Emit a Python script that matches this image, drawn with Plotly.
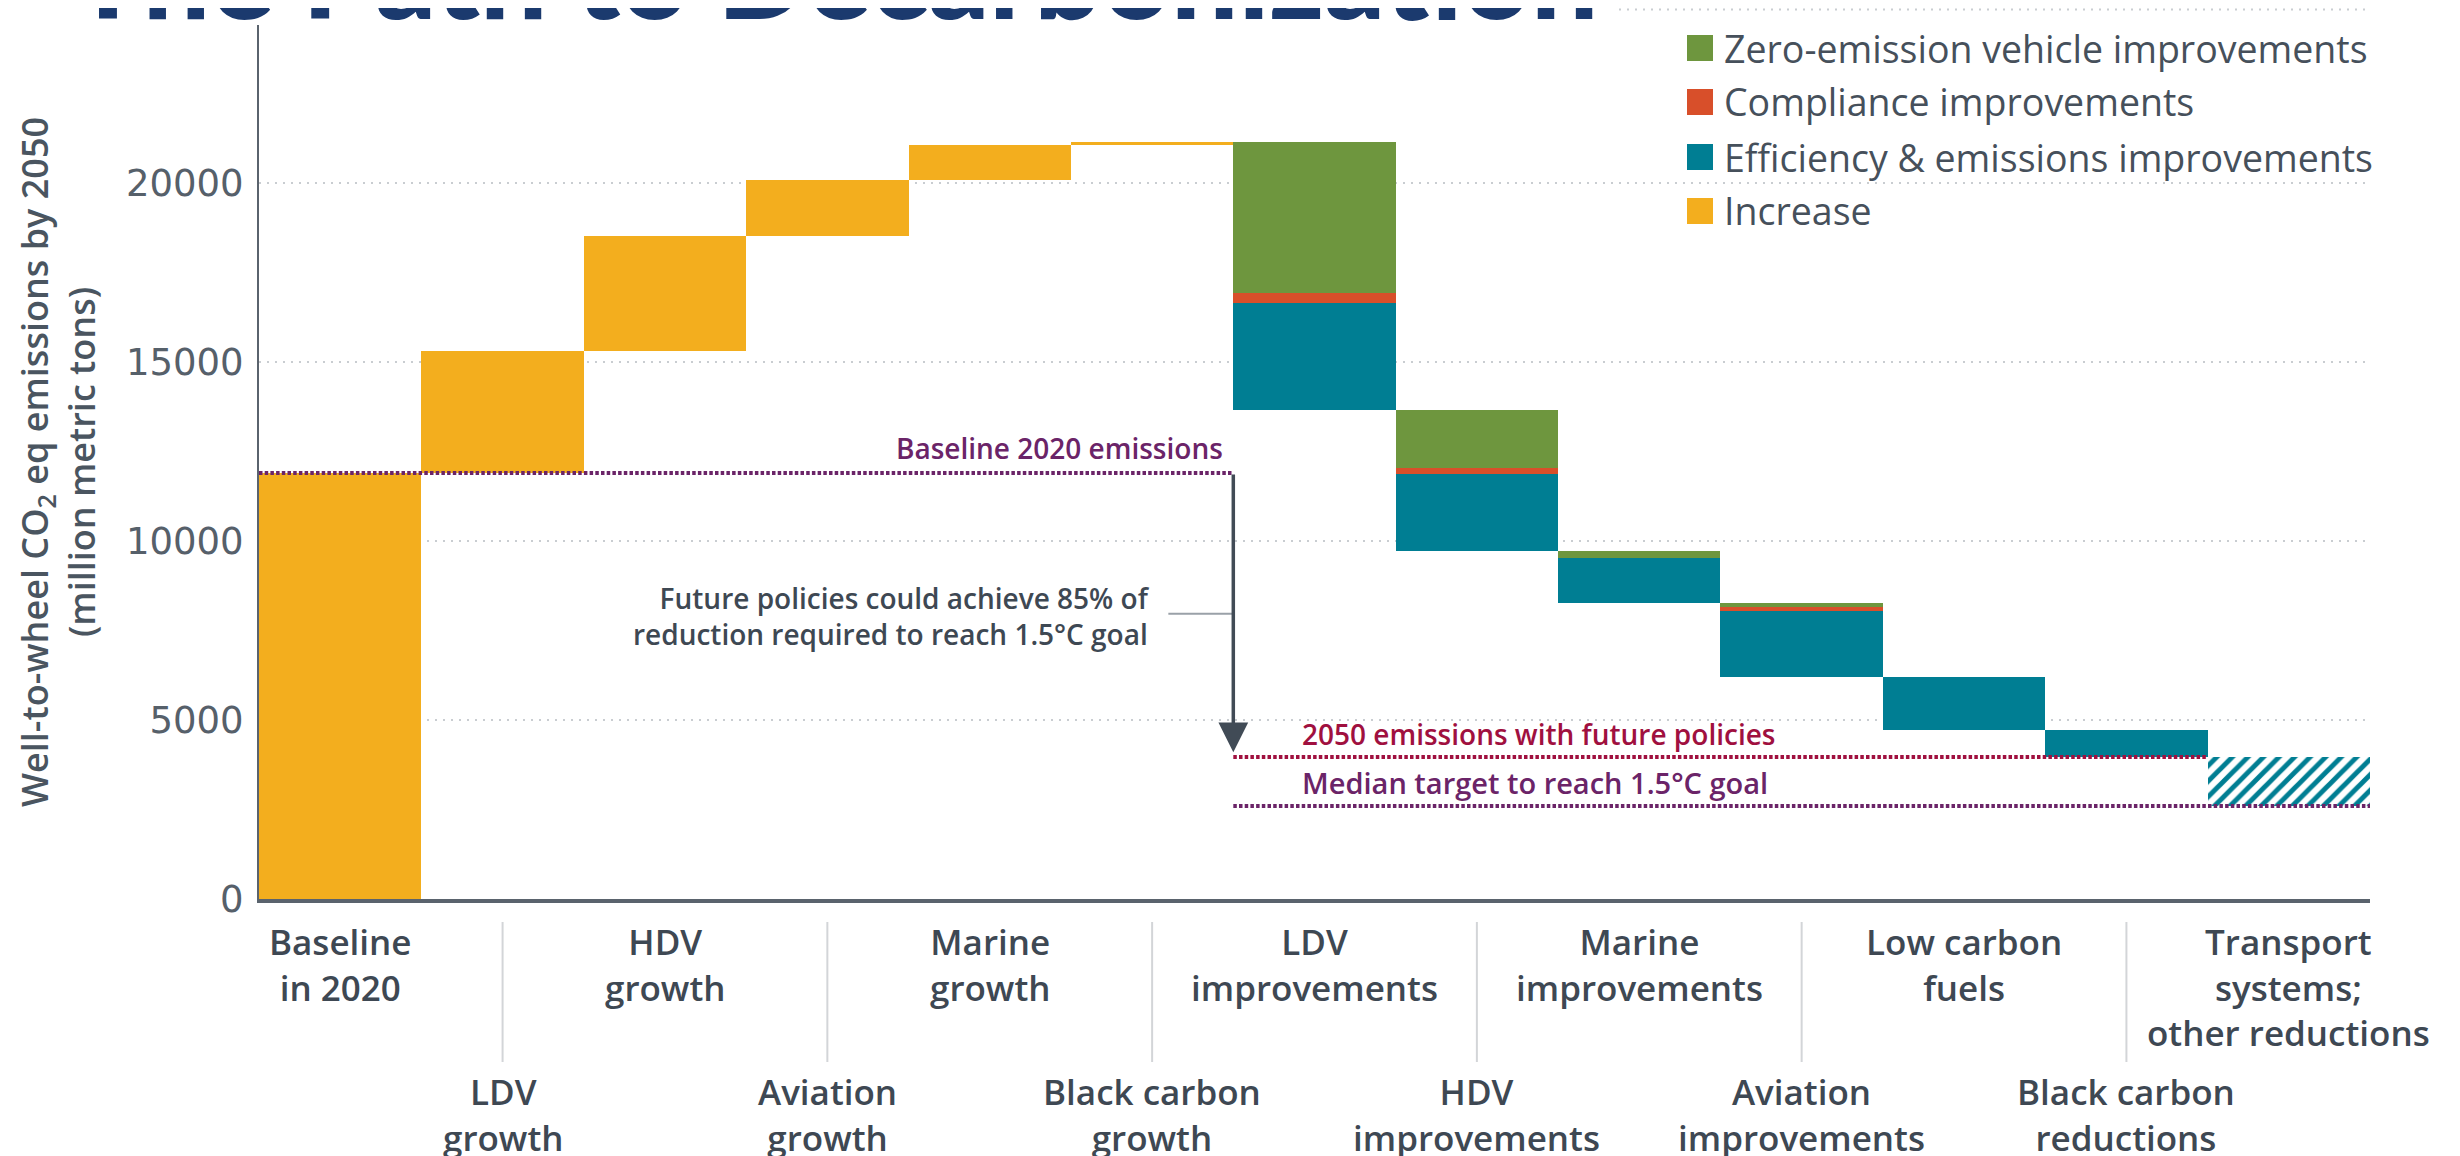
import plotly.graph_objects as go

# ---------------- data ----------------
categories = ["Baseline in 2020", "LDV growth", "HDV growth", "Aviation growth",
              "Marine growth", "Black carbon growth", "LDV improvements",
              "HDV improvements", "Marine improvements", "Aviation improvements",
              "Low carbon fuels", "Black carbon reductions",
              "Transport systems; other reductions"]
tick_labels = ["Baseline<br>in 2020", "LDV<br>growth", "HDV<br>growth", "Aviation<br>growth",
               "Marine<br>growth", "Black carbon<br>growth", "LDV<br>improvements",
               "HDV<br>improvements", "Marine<br>improvements", "Aviation<br>improvements",
               "Low carbon<br>fuels", "Black carbon<br>reductions",
               "Transport<br>systems;<br>other reductions"]

increase_cats = categories[0:6]
increase = [11900, 3400, 3220, 1560, 990, 80]

reduction_cats = categories[6:12]
zev = [4210, 1600, 200, 110, 0, 0]
compliance = [280, 180, 0, 120, 0, 0]
efficiency = [3010, 2150, 1250, 1840, 1480, 750]

other_cat = categories[12]
other_reduction = 1370

baseline_2020 = 11900
emissions_2050 = 3970
median_target = 2600

y_ticks = [0, 5000, 10000, 15000, 20000]

# ---------------- styles ----------------
YELLOW = "#F3AE1E"
GREEN = "#6E963E"
RED = "#D84F2A"
TEAL = "#007E93"
PURPLE = "#6B2468"
CRIMSON = "#A0103F"
DARK = "#3E4853"
GRAY_TXT = "#56606A"
TITLE_BLUE = "#1B3A6E"
FONT = "Open Sans"

# layout geometry (figure pixels); page is offset by the body margin
W, H = 2460, 1156
OFF = 8
ML, MR, MT, MB = 251, 98, 0, 265
PW = W - ML - MR
PH = H - MT - MB


def px_x(p):  # page pixel -> paper x
    return (p - OFF - ML) / PW


def px_y(p):  # page pixel -> paper y
    return (H - MB - (p - OFF)) / PH


# ---------------- bar geometry ----------------
inc_base = []
run = 0
for v in increase:
    inc_base.append(run)
    run += v
top = run

zev_base, comp_base, eff_base = [], [], []
for z, c, e in zip(zev, compliance, efficiency):
    zev_base.append(top - z)
    comp_base.append(top - z - c)
    eff_base.append(top - z - c - e)
    top = top - z - c - e

fig = go.Figure()
fig.add_trace(go.Bar(x=increase_cats, y=increase, base=inc_base, marker_color=YELLOW,
                     marker_line_width=0, name="Increase", showlegend=False))
fig.add_trace(go.Bar(x=reduction_cats, y=zev, base=zev_base, marker_color=GREEN,
                     marker_line_width=0, name="Zero-emission vehicle improvements", showlegend=False))
fig.add_trace(go.Bar(x=reduction_cats, y=compliance, base=comp_base, marker_color=RED,
                     marker_line_width=0, name="Compliance improvements", showlegend=False))
fig.add_trace(go.Bar(x=reduction_cats, y=efficiency, base=eff_base, marker_color=TEAL,
                     marker_line_width=0, name="Efficiency & emissions improvements", showlegend=False))
fig.add_trace(go.Bar(x=[other_cat], y=[other_reduction], base=[median_target],
                     marker=dict(color="white", line_width=0,
                                 pattern=dict(shape="/", fgcolor=TEAL, bgcolor="white",
                                              size=11, solidity=0.45, fillmode="replace")),
                     name="Transport systems; other reductions", showlegend=False))

shapes = []
annotations = []

# top grid line (25000 level, at the very top edge)
shapes.append(dict(type="line", xref="x", yref="paper", x0=-0.5, x1=12.5,
                   y0=1 - 1.5 / PH, y1=1 - 1.5 / PH,
                   line=dict(color="#C9CDD1", width=2, dash="2px,6px")))

# reference dotted lines
DOT = "3.5px,2.2px"
shapes.append(dict(type="line", xref="x", yref="y", x0=-0.5, x1=5.5,
                   y0=baseline_2020, y1=baseline_2020,
                   line=dict(color=PURPLE, width=4, dash=DOT), layer="above"))
shapes.append(dict(type="line", xref="x", yref="y", x0=5.5, x1=11.5,
                   y0=emissions_2050, y1=emissions_2050,
                   line=dict(color=CRIMSON, width=4, dash=DOT), layer="above"))
shapes.append(dict(type="line", xref="x", yref="y", x0=5.5, x1=12.5,
                   y0=median_target, y1=median_target,
                   line=dict(color=PURPLE, width=4, dash=DOT), layer="above"))

annotations.append(dict(xref="x", yref="y", x=5.45, y=baseline_2020 + 100,
                        xanchor="right", yanchor="bottom", showarrow=False,
                        text="Baseline 2020 emissions",
                        font=dict(family=FONT, size=28, color=PURPLE, weight=600)))
annotations.append(dict(xref="x", yref="y", x=5.91, y=emissions_2050 + 60,
                        xanchor="left", yanchor="bottom", showarrow=False,
                        text="2050 emissions with future policies",
                        font=dict(family=FONT, size=28, color=CRIMSON, weight=600)))
annotations.append(dict(xref="x", yref="y", x=5.91, y=median_target + 60,
                        xanchor="left", yanchor="bottom", showarrow=False,
                        text="Median target to reach 1.5°C goal",
                        font=dict(family=FONT, size=29, color=PURPLE, weight=600)))

# arrow from baseline to 2050 level
annotations.append(dict(xref="x", yref="y", axref="x", ayref="y",
                        x=5.5, y=emissions_2050 + 130, ax=5.5, ay=baseline_2020,
                        text="", showarrow=True, arrowhead=2, arrowsize=1.7,
                        arrowwidth=3.5, arrowcolor="#414B56", standoff=0, startstandoff=0))
shapes.append(dict(type="line", xref="x", yref="y", x0=5.1, x1=5.5, y0=7970, y1=7970,
                   line=dict(color="#9AA1A8", width=2)))
annotations.append(dict(xref="x", yref="y", x=5.0, y=7900, xanchor="right", yanchor="middle",
                        showarrow=False, align="right",
                        text="Future policies could achieve 85% of<br>reduction required to reach 1.5°C goal",
                        font=dict(family=FONT, size=28, color=DARK, weight=600)))

# category labels, alternating rows, and separators
for i, (cat, lab) in enumerate(zip(categories, tick_labels)):
    if i % 2 == 0:
        yy = px_y(916)
    else:
        yy = px_y(1066)
        shapes.append(dict(type="line", xref="x", yref="paper", x0=cat, x1=cat,
                           y0=px_y(922), y1=px_y(1062),
                           line=dict(color="#D3D5D8", width=2)))
    annotations.append(dict(xref="x", yref="paper", x=cat, y=yy, xanchor="center",
                            yanchor="top", showarrow=False, text=lab, align="center",
                            font=dict(family=FONT, size=35, color=DARK, weight=600)))

# legend (manual)
legend_items = [("Zero-emission vehicle improvements", GREEN),
                ("Compliance improvements", RED),
                ("Efficiency & emissions improvements", TEAL),
                ("Increase", YELLOW)]
legend_y = [48, 102, 157, 211]
for (name, col), cy in zip(legend_items, legend_y):
    shapes.append(dict(type="rect", xref="paper", yref="paper",
                       x0=px_x(1687), x1=px_x(1713), y0=px_y(cy + 13), y1=px_y(cy - 13),
                       fillcolor=col, line_width=0, layer="above"))
    annotations.append(dict(xref="paper", yref="paper", x=px_x(1722), y=px_y(cy),
                            xanchor="left", yanchor="middle", showarrow=False, text=name,
                            font=dict(family=FONT, size=37.5, color="#46505B")))

# title (partly cut off at top) with white backing
shapes.append(dict(type="rect", xref="paper", yref="paper",
                   x0=px_x(80), x1=px_x(1618), y0=px_y(25), y1=px_y(-10),
                   fillcolor="white", line_width=0, layer="above"))
annotations.append(dict(xref="paper", yref="paper", x=px_x(70), y=px_y(46),
                        xanchor="left", yanchor="bottom", showarrow=False,
                        text="The Path to Decarbonization",
                        font=dict(family="Lato", size=119, color=TITLE_BLUE, weight=900)))

# y-axis title
annotations.append(dict(xref="paper", yref="paper", x=px_x(58), y=px_y(462),
                        xanchor="center", yanchor="middle", showarrow=False, textangle=-90,
                        text="Well-to-wheel CO<sub>2</sub> eq emissions by 2050<br>(million metric tons)",
                        font=dict(family=FONT, size=36, color="#4A5560", weight=600)))

fig.update_layout(
    width=W, height=H,
    margin=dict(l=ML, r=MR, t=MT, b=MB, pad=0),
    paper_bgcolor="white", plot_bgcolor="white",
    barmode="overlay", bargap=0,
    showlegend=False,
    shapes=shapes, annotations=annotations,
    xaxis=dict(categoryorder="array", categoryarray=categories, range=[-0.5, 12.5],
               showticklabels=False, showgrid=False, ticks="",
               showline=True, linecolor="#5A636D", linewidth=4, zeroline=False),
    yaxis=dict(range=[0, 24890], tickvals=y_ticks, ticktext=[str(v) for v in y_ticks],
               showgrid=True, gridcolor="#C9CDD1", gridwidth=2, griddash="2px,6px",
               showline=True, linecolor="#5A636D", linewidth=2, zeroline=False,
               ticks="", ticklabelstandoff=6,
               tickfont=dict(family="DejaVu Sans", size=37, color=GRAY_TXT)),
)

fig.write_html("out.html")
